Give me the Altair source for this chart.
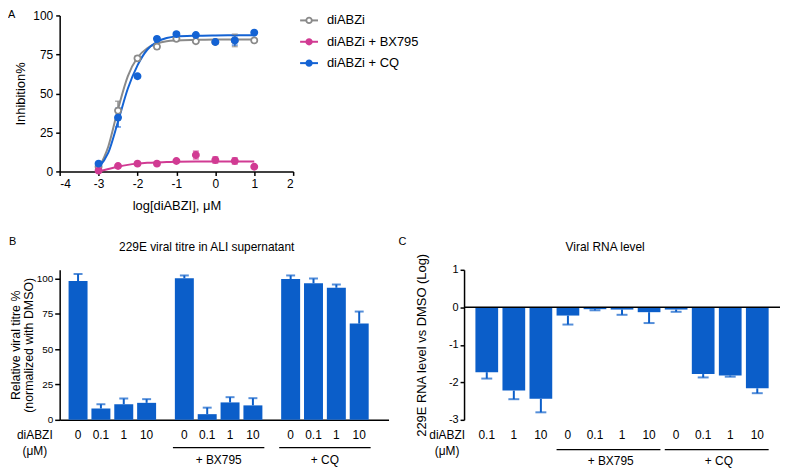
import altair as alt
import pandas as pd

FONT = "Liberation Sans"
GRAY = "#8a8a8a"
PINK = "#d13b93"
BLUE = "#1463d4"
BAR = "#0b5ec9"

# ---------------- Panel A data ----------------
series = ["diABZi", "diABZi + BX795", "diABZi + CQ"]
series_stroke = [GRAY, PINK, BLUE]
series_fill = ["white", PINK, BLUE]
log_dose = [-3, -2.5, -2, -1.5, -1, -0.5, 0, 0.5, 1]
gray_mean = [3, 39, 72.5, 80, 85, 83.5, 83, 84, 84]
gray_sd = [1, 6, 1.5, 1.5, 1, 1, 1, 4, 1]
pink_mean = [0.5, 3.5, 5, 5, 6.7, 10.5, 7.3, 6.7, 3]
pink_sd = [0.5, 0.5, 0.5, 0.5, 0.5, 2.5, 2, 2, 0.5]
blue_mean = [5, 34.5, 61, 85, 88, 87.5, 83, 84, 89]
blue_sd = [0.5, 6, 1, 1, 1, 0.5, 1, 3, 0.5]

fit_x = [-3, -2.75, -2.5, -2.25, -2, -1.75, -1.5, -1.25, -1, -0.5, 0, 0.5, 1]
gray_fit = [2, 16, 40, 61, 73, 79, 82, 83.5, 84, 84.3, 84.5, 84.5, 84.5]
pink_fit = [0, 1.5, 3, 4.2, 5, 5.5, 5.8, 6.0, 6.2, 6.3, 6.3, 6.3, 6.3]
blue_fit = [2.5, 12, 32, 53, 68, 78, 83, 85.5, 86.5, 87, 87.2, 87.3, 87.3]

# ---------------- Panel B data ----------------
b_groups = ["none", "BX795", "CQ"]
b_group_labels = ["", "+ BX795", "+ CQ"]
doses = ["0", "0.1", "1", "10"]
b_vals = [[98, 8, 11, 12], [100, 4, 12.3, 10.2], [99.5, 96.5, 93.3, 68]]
b_err = [[5, 3, 4, 2.6], [2, 4.6, 3.7, 5.1], [2.5, 3.3, 2.3, 8.5]]

# ---------------- Panel C data ----------------
c_group = ["none"] * 3 + ["BX795"] * 4 + ["CQ"] * 4
c_dose = ["0.1", "1", "10", "0", "0.1", "1", "10", "0", "0.1", "1", "10"]
c_vals = [-1.73, -2.22, -2.44, -0.22, -0.05, -0.06, -0.13, -0.06, -1.78, -1.82, -2.16]
c_err = [0.17, 0.23, 0.36, 0.24, 0.03, 0.14, 0.29, 0.06, 0.09, 0.03, 0.13]

# ================= Panel A =================
rows = []
for s, m, sd in zip(series, [gray_mean, pink_mean, blue_mean], [gray_sd, pink_sd, blue_sd]):
    for x, v, e in zip(log_dose, m, sd):
        rows.append({"series": s, "x": x, "mean": v, "lo": v - e, "hi": v + e})
pts = pd.DataFrame(rows)
frows = []
for s, f in zip(series, [gray_fit, pink_fit, blue_fit]):
    for x, v in zip(fit_x, f):
        frows.append({"series": s, "x": x, "y": v})
fit = pd.DataFrame(frows)

WA, HA = 235, 157
xA = alt.X("x:Q", scale=alt.Scale(domain=[-4, 2], nice=False, padding=0),
           axis=alt.Axis(values=[-4, -3, -2, -1, 0, 1, 2], labelExpr="'' + datum.value",
                         title="log[diABZI], μM", labelPadding=3, titlePadding=10,
                         labelFontSize=12, titleFontSize=13))
yaxA = alt.Axis(values=[0, 25, 50, 75, 100], title="Inhibition%", labelPadding=3,
                titlePadding=5, labelFontSize=12, titleFontSize=13)
def yA(f):
    return alt.Y(f, scale=alt.Scale(domain=[0, 100], nice=False, padding=0), axis=yaxA)
col = alt.Color("series:N", scale=alt.Scale(domain=series, range=series_stroke), legend=None)
strk = alt.Stroke("series:N", scale=alt.Scale(domain=series, range=series_stroke), legend=None)
fll = alt.Fill("series:N", scale=alt.Scale(domain=series, range=series_fill), legend=None)

a_lines = alt.Chart(fit).mark_line(strokeWidth=2, interpolate="monotone").encode(
    x=xA, y=yA("y:Q"), color=col)
a_err = alt.Chart(pts).mark_rule(strokeWidth=1.5).encode(x=xA, y=yA("lo:Q"), y2="hi:Q", color=col)
a_cap1 = alt.Chart(pts).mark_tick(orient="horizontal", size=6, thickness=1.5).encode(
    x=xA, y=yA("lo:Q"), color=col)
a_cap2 = alt.Chart(pts).mark_tick(orient="horizontal", size=6, thickness=1.5).encode(
    x=xA, y=yA("hi:Q"), color=col)
a_pts = alt.Chart(pts).mark_point(shape="circle", size=38, strokeWidth=1.8, opacity=1,
                                  fillOpacity=1).encode(x=xA, y=yA("mean:Q"), stroke=strk, fill=fll)
a_letter = alt.Chart(pd.DataFrame({"t": ["A"]})).mark_text(
    align="left", baseline="top", fontSize=11).encode(
    x=alt.value(-52), y=alt.value(-6), text="t:N")
panelA = alt.layer(a_lines, a_err, a_cap1, a_cap2, a_pts, a_letter).properties(width=WA, height=HA)

# legend
leg = pd.DataFrame({"series": series})
ly = alt.Y("series:N", scale=alt.Scale(domain=series, type="point", padding=0.233), axis=None)
l_line = alt.Chart(leg).mark_rule(strokeWidth=2).encode(
    x=alt.value(0), x2=alt.value(18), y=ly, color=col)
l_pt = alt.Chart(leg).mark_point(shape="circle", size=30, strokeWidth=1.8, opacity=1,
                                 fillOpacity=1).encode(x=alt.value(9), y=ly, stroke=strk, fill=fll)
l_txt = alt.Chart(leg).mark_text(align="left", baseline="middle", fontSize=13).encode(
    x=alt.value(27), y=ly, text="series:N")
legend = alt.layer(l_line, l_pt, l_txt).properties(width=125, height=53)

top = alt.hconcat(panelA, legend, spacing=5)

# ================= Panel B =================
brows = []
for g, gl, vals, errs in zip(b_groups, b_group_labels, b_vals, b_err):
    for d, v, e in zip(doses, vals, errs):
        brows.append({"group": g, "dose": d, "value": v, "hi": v + e})
bdf = pd.DataFrame(brows)
WB, HB = 331, 151
xB = alt.X("group:N", scale=alt.Scale(domain=b_groups, paddingInner=0.14, paddingOuter=0.117,
                                      align=0.28),
           axis=alt.Axis(labels=False, ticks=False, title=None))
xoB = alt.XOffset("dose:N", scale=alt.Scale(domain=doses, paddingInner=0.17, paddingOuter=0.085))
yaxB = alt.Axis(values=[0, 25, 50, 75, 100], title=["Relative viral titre %", "(normalized with DMSO)"],
                labelFontSize=10, tickSize=5, labelPadding=2, titleX=-37,
                titleLineHeight=12.5, titleFontSize=12.5)
def yB(f):
    return alt.Y(f, scale=alt.Scale(domain=[0, 106], nice=False, padding=0), axis=yaxB)

b_bars = alt.Chart(bdf).mark_bar(color=BAR).encode(x=xB, xOffset=xoB, y=yB("value:Q"))
b_err = alt.Chart(bdf).mark_rule(color=BAR, strokeWidth=2).encode(
    x=xB, xOffset=xoB, y=yB("value:Q"), y2="hi:Q")
b_cap = alt.Chart(bdf).mark_tick(color=BAR, orient="horizontal", size=9, thickness=2).encode(
    x=xB, xOffset=xoB, y=yB("hi:Q"))
b_lab = alt.Chart(bdf).mark_text(fontSize=12, baseline="middle").encode(
    x=xB, xOffset=xoB, y=alt.value(HB + 15), text="dose:N")
bgrp = pd.DataFrame({"group": b_groups[1:], "label": b_group_labels[1:]})
b_ul = alt.Chart(bgrp).mark_rule(color="black", strokeWidth=1.3).encode(
    x=alt.X("group:N", bandPosition=0), x2=alt.X2("group:N", bandPosition=1),
    y=alt.value(HB + 28))
b_gl = alt.Chart(bgrp).mark_text(fontSize=12, baseline="middle").encode(
    x=alt.X("group:N"), y=alt.value(HB + 40), text="label:N")
b_d1 = alt.Chart(pd.DataFrame({"t": ["diABZI"]})).mark_text(fontSize=12, baseline="middle").encode(
    x=alt.value(-25), y=alt.value(HB + 15), text="t:N")
b_d2 = alt.Chart(pd.DataFrame({"t": ["(μM)"]})).mark_text(fontSize=12, baseline="middle").encode(
    x=alt.value(-25), y=alt.value(HB + 31), text="t:N")
b_title = alt.Chart(pd.DataFrame({"t": ["229E viral titre in ALI supernatant"]})).mark_text(
    fontSize=12, baseline="middle").encode(x=alt.value(WB / 2 - 17.5), y=alt.value(-23), text="t:N")
b_letter = alt.Chart(pd.DataFrame({"t": ["B"]})).mark_text(
    align="left", baseline="middle", fontSize=11).encode(x=alt.value(-51), y=alt.value(-28), text="t:N")
panelB = alt.layer(b_bars, b_err, b_cap, b_lab, b_ul, b_gl, b_d1, b_d2, b_title, b_letter).properties(
    width=WB, height=HB)

# ================= Panel C =================
c_keys = [g + "|" + d for g, d in zip(c_group, c_dose)]
cdf = pd.DataFrame({"key": c_keys, "dose": c_dose, "value": c_vals,
                    "lo": [v - e for v, e in zip(c_vals, c_err)]})
WC, HC = 318, 151
xC = alt.X("key:N", scale=alt.Scale(domain=c_keys, paddingInner=0.16, paddingOuter=0.42), axis=None)
yaxC = alt.Axis(values=[-3, -2, -1, 0, 1], labelExpr="'' + datum.value", title="229E RNA level vs DMSO (Log)",
                labelFontSize=11, tickSize=4, labelPadding=2, titlePadding=20, titleFontSize=13)
def yC(f):
    return alt.Y(f, scale=alt.Scale(domain=[-3, 1], nice=False, padding=0), axis=yaxC)

c_bars = alt.Chart(cdf).mark_bar(color=BAR).encode(x=xC, y=yC("value:Q"))
c_err = alt.Chart(cdf).mark_rule(color=BAR, strokeWidth=2).encode(x=xC, y=yC("value:Q"), y2="lo:Q")
c_cap = alt.Chart(cdf).mark_tick(color=BAR, orient="horizontal", size=11, thickness=2).encode(
    x=xC, y=yC("lo:Q"))
c_zero = alt.Chart(pd.DataFrame({"z": [0]})).mark_rule(color="black", strokeWidth=1.5).encode(
    y=yC("z:Q"), x=alt.value(0), x2=alt.value(WC))
c_lab = alt.Chart(cdf).mark_text(fontSize=12, baseline="middle").encode(
    x=xC, y=alt.value(HC + 15), text="dose:N")
cgrp = pd.DataFrame({"start": ["BX795|0", "CQ|0"], "end": ["BX795|10", "CQ|10"],
                     "mid": ["BX795|1", "CQ|1"], "label": ["+ BX795", "+ CQ"]})
c_ul = alt.Chart(cgrp).mark_rule(color="black", strokeWidth=1.3).encode(
    x=alt.X("start:N", bandPosition=0), x2=alt.X2("end:N", bandPosition=1), y=alt.value(HC + 30))
c_gl = alt.Chart(cgrp).mark_text(fontSize=12, baseline="middle").encode(
    x=alt.X("mid:N", bandPosition=0), y=alt.value(HC + 41), text="label:N")
c_d1 = alt.Chart(pd.DataFrame({"t": ["diABZI"]})).mark_text(fontSize=12, baseline="middle").encode(
    x=alt.value(-17), y=alt.value(HC + 15), text="t:N")
c_d2 = alt.Chart(pd.DataFrame({"t": ["(μM)"]})).mark_text(fontSize=12, baseline="middle").encode(
    x=alt.value(-17), y=alt.value(HC + 31), text="t:N")
c_title = alt.Chart(pd.DataFrame({"t": ["Viral RNA level"]})).mark_text(
    fontSize=12, baseline="middle").encode(x=alt.value(WC / 2 - 17), y=alt.value(-23), text="t:N")
c_letter = alt.Chart(pd.DataFrame({"t": ["C"]})).mark_text(
    align="left", baseline="middle", fontSize=11).encode(x=alt.value(-66), y=alt.value(-28), text="t:N")
panelC = alt.layer(c_bars, c_err, c_cap, c_zero, c_lab, c_ul, c_gl, c_d1, c_d2, c_title,
                   c_letter).properties(width=WC, height=HC)

bottom = alt.hconcat(panelB, panelC, spacing=10)

chart = alt.vconcat(top, bottom, spacing=24).properties(padding=0).configure(
    font=FONT
).configure_view(stroke=None).configure_axis(
    domainColor="black", domainWidth=1.5, tickColor="black", tickWidth=1.5, tickSize=4,
    labelColor="black", titleColor="black", titleFontWeight="normal", grid=False,
    labelFont=FONT, titleFont=FONT
)

chart.save("out.html", embed_options={"renderer": "svg", "actions": False})
